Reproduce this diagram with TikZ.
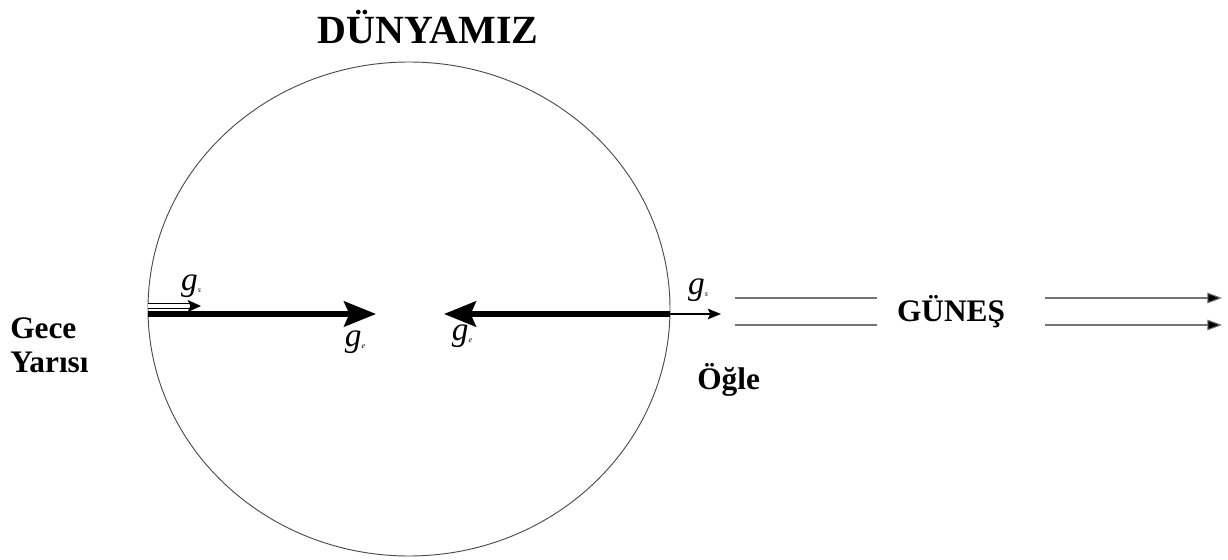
\documentclass[tikz,border=0pt]{standalone}
\usepackage{fontspec}
\setmainfont{Liberation Serif}
\usetikzlibrary{arrows.meta}
\tikzset{
  label/.style = {font=\fontsize{23.5}{26}\selectfont\bfseries, align=left, inner sep=0pt},
  gsym/.style  = {font=\fontsize{25}{26}\selectfont\itshape, inner sep=0pt},
  force/.style = {line width=3.8pt, -{Stealth[length=24pt, width=19pt, inset=4pt]}},
  small/.style = {line width=1.2pt, -{Stealth[length=10pt, width=8pt, inset=2pt]}},
  ray/.style   = {draw=black!55, line width=0.8pt},
}
\begin{document}
\begin{tikzpicture}[x=0.75pt, y=-0.75pt]
  \useasboundingbox (0,0) rectangle (1228,560);
  % earth
  \draw[black!70, line width=0.7pt] (409,309) ellipse [x radius=261, y radius=247];
  \node[font=\fontsize{30}{33}\selectfont\bfseries, inner sep=0pt] (title) at (428,27) {DÜNYAMIZ};
  \coordinate (west) at (148,314);
  \coordinate (east) at (670,314);
  \coordinate (wtip) at (376,314);
  \coordinate (etip) at (444,314);
  \coordinate (wsmall) at (201,306);
  \coordinate (esmall) at (721,314);
  % forces
  \draw[force] (west) -- (wtip);
  \draw[force] (east) -- (etip);
  \draw[line width=1.1pt, double distance=2.6pt, -{Stealth[length=10pt, width=9pt, inset=2pt]}] (148,306) -- (wsmall);
  \draw[small] (east) -- (esmall);
  \node[gsym] (gs1) at (191,286) {g\raisebox{-2pt}{\fontsize{6}{6}\selectfont s}};
  \node[gsym] (ge1) at (355,342) {g\raisebox{-2pt}{\fontsize{6}{6}\selectfont e}};
  \node[gsym] (ge2) at (462,336) {g\raisebox{-2pt}{\fontsize{6}{6}\selectfont e}};
  \node[gsym] (gs2) at (698,290) {g\raisebox{-2pt}{\fontsize{6}{6}\selectfont s}};
  % labels
  \node[label, anchor=north west] (gece) at (10,317) {Gece\\[0pt]Yarısı};
  \node[label, anchor=north west] (ogle) at (697,363) {Öğle};
  % sun rays
  \node[label] (sun) at (951,312) {GÜNEŞ};
  \coordinate (r1a) at (735,298);
  \coordinate (r1b) at (877,298);
  \coordinate (r2a) at (735,325);
  \coordinate (r2b) at (877,325);
  \coordinate (r3a) at (1045,298);
  \coordinate (r3b) at (1222,298);
  \coordinate (r4a) at (1045,325);
  \coordinate (r4b) at (1222,325);
  \draw[ray] (r1a) -- (r1b);
  \draw[ray] (r2a) -- (r2b);
  \draw[ray, -{Triangle[length=11pt, width=8pt, fill=black]}] (r3a) -- (r3b);
  \draw[ray, -{Triangle[length=11pt, width=8pt, fill=black]}] (r4a) -- (r4b);
\end{tikzpicture}
\end{document}
